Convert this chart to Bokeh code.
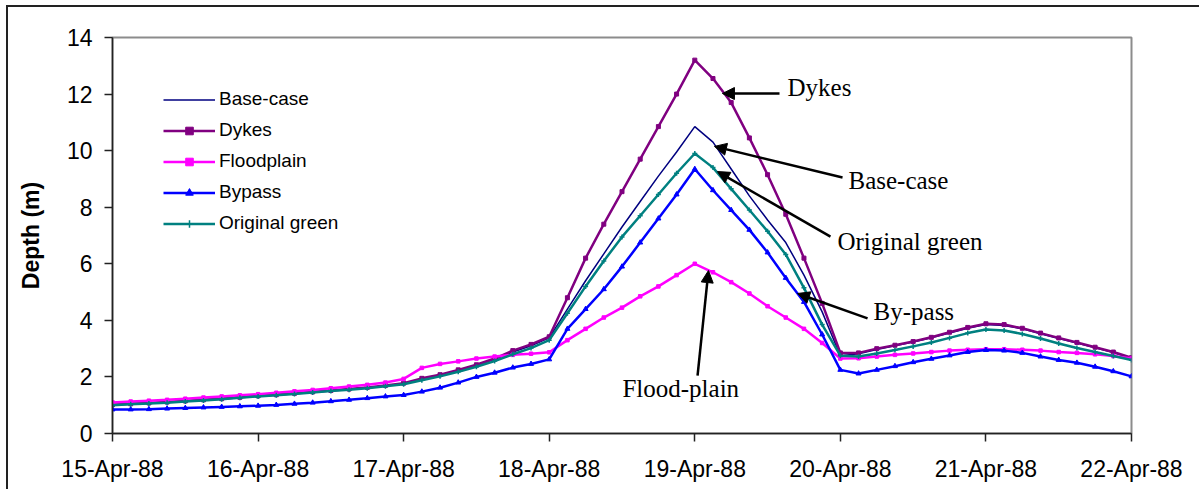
import pandas as pd
from bokeh.plotting import figure
from bokeh.models import (Range1d, DatetimeTickFormatter, DaysTicker,
                          Label, Arrow, NormalHead, ColumnDataSource)
from bokeh.embed import file_html
from bokeh.resources import INLINE

# ---------------- data (3-hourly readings, 15-Apr-88 00:00 .. 22-Apr-88 00:00) ----------------
start = "1988-04-15 00:00"
end = "1988-04-22 00:00"
times = pd.date_range(start, end, freq="3h")

base_case = [1.02, 1.05, 1.08, 1.11, 1.15, 1.19, 1.23, 1.28, 1.33,
             1.37, 1.42, 1.47, 1.52, 1.57, 1.62, 1.69, 1.77,
             1.94, 2.07, 2.23, 2.41, 2.62, 2.88, 3.10, 3.38,
             4.40, 5.40, 6.35, 7.30, 8.20, 9.10, 9.95, 10.85,
             10.30, 9.35, 8.40, 7.55, 6.75, 5.60, 4.30, 2.75,
             2.82, 2.97, 3.10, 3.23, 3.38, 3.55, 3.72, 3.85,
             3.82, 3.70, 3.53, 3.36, 3.20, 3.03, 2.86, 2.66]

dykes = [1.02, 1.05, 1.08, 1.11, 1.15, 1.19, 1.23, 1.28, 1.33,
         1.37, 1.42, 1.47, 1.52, 1.57, 1.63, 1.70, 1.78,
         1.95, 2.08, 2.25, 2.43, 2.65, 2.93, 3.15, 3.42,
         4.80, 6.20, 7.40, 8.55, 9.70, 10.85, 12.00, 13.20,
         12.55, 11.70, 10.45, 9.15, 7.75, 6.20, 4.60, 2.85,
         2.85, 3.00, 3.12, 3.25, 3.40, 3.58, 3.75, 3.88,
         3.85, 3.72, 3.55, 3.38, 3.22, 3.05, 2.88, 2.68]

floodplain = [1.10, 1.13, 1.16, 1.19, 1.23, 1.27, 1.31, 1.35, 1.39,
              1.44, 1.49, 1.54, 1.60, 1.66, 1.72, 1.80, 1.93,
              2.32, 2.46, 2.55, 2.65, 2.72, 2.78, 2.82, 2.87,
              3.30, 3.70, 4.10, 4.45, 4.85, 5.20, 5.60, 6.00,
              5.70, 5.35, 4.95, 4.50, 4.10, 3.70, 3.20, 2.65,
              2.66, 2.72, 2.78, 2.83, 2.88, 2.93, 2.96, 2.98,
              2.98, 2.96, 2.93, 2.88, 2.85, 2.80, 2.74, 2.65]

bypass = [0.85, 0.85, 0.86, 0.88, 0.90, 0.92, 0.94, 0.96, 0.98,
          1.01, 1.05, 1.09, 1.14, 1.19, 1.25, 1.31, 1.36,
          1.48, 1.62, 1.80, 2.00, 2.15, 2.33, 2.46, 2.62,
          3.70, 4.40, 5.10, 5.90, 6.75, 7.60, 8.45, 9.35,
          8.60, 7.90, 7.20, 6.40, 5.50, 4.65, 3.50, 2.25,
          2.12, 2.25, 2.38, 2.52, 2.64, 2.76, 2.88, 2.95,
          2.93, 2.85, 2.72, 2.60, 2.50, 2.36, 2.20, 2.02]

original_green = [1.00, 1.03, 1.06, 1.09, 1.13, 1.17, 1.21, 1.26, 1.31,
                  1.35, 1.40, 1.45, 1.50, 1.55, 1.60, 1.67, 1.74,
                  1.88, 2.02, 2.18, 2.36, 2.56, 2.80, 3.02, 3.30,
                  4.25, 5.20, 6.10, 6.95, 7.70, 8.45, 9.20, 9.90,
                  9.40, 8.65, 7.90, 7.15, 6.33, 5.15, 3.85, 2.75,
                  2.72, 2.83, 2.95, 3.08, 3.22, 3.38, 3.55, 3.68,
                  3.64, 3.52, 3.36, 3.18, 3.02, 2.88, 2.74, 2.60]

series_names = ["Base-case", "Dykes", "Floodplain", "Bypass", "Original green"]
y_ticks = [0, 2, 4, 6, 8, 10, 12, 14]

# annotations: (text, label day-offset, label depth, arrow tail day, tail depth, tip day, tip depth)
annotations = [
    ("Dykes",          4.637, 12.23, 4.582, 12.02, 4.190, 12.02),
    ("Base-case",      5.056, 8.945, 5.015, 9.05, 4.135, 10.15),
    ("Original green", 4.980, 6.789, 4.932, 6.96, 4.156, 9.26),
    ("By-pass",        5.228, 4.314, 5.187, 4.07, 4.706, 4.95),
    ("Flood-plain",    3.503, 1.593, 4.019, 2.05, 4.094, 5.76),
]

# ---------------- figure ----------------
start_ms = pd.Timestamp(start).value // 10**6
day_ms = 86400000


def dx(d):
    return start_ms + d * day_ms


source = ColumnDataSource(dict(t=times, base=base_case, dykes=dykes, flood=floodplain,
                               bypass=bypass, green=original_green))

p = figure(width=1193, height=484, x_axis_type="datetime",
           x_range=Range1d(pd.Timestamp(start), pd.Timestamp(end)),
           y_range=Range1d(0, 14),
           output_backend="svg", toolbar_location=None,
           min_border_left=104, min_border_right=70, min_border_top=30, min_border_bottom=58)
p.styles = {"margin-left": "8px", "margin-top": "7px",
            "box-shadow": "-2px -2px 0px 0px #222222"}

p.xgrid.visible = False
p.ygrid.visible = False
p.outline_line_color = "#8c8c8c"
p.outline_line_width = 2
p.background_fill_color = "white"
p.border_fill_color = "white"

# series
p.line("t", "base", source=source, line_color="#000080", line_width=1.5, legend_label=series_names[0])

p.line("t", "dykes", source=source, line_color="#800080", line_width=2.5, legend_label=series_names[1])
p.scatter("t", "dykes", source=source, marker="square", size=4, color="#800080", legend_label=series_names[1])

p.line("t", "flood", source=source, line_color="#FF00FF", line_width=2.5, legend_label=series_names[2])
p.scatter("t", "flood", source=source, marker="square", size=3.5, color="#FF00FF", legend_label=series_names[2])

p.line("t", "bypass", source=source, line_color="#0000FF", line_width=2.5, legend_label=series_names[3])
p.scatter("t", "bypass", source=source, marker="triangle", size=5, color="#0000FF", legend_label=series_names[3])

p.line("t", "green", source=source, line_color="#008080", line_width=2.5, legend_label=series_names[4])
p.scatter("t", "green", source=source, marker="cross", size=5, line_width=1.5, color="#008080",
          legend_label=series_names[4])

# axes
p.xaxis.ticker = DaysTicker(days=list(range(1, 32)))
fmt = "%d-%b-%y"
p.xaxis.formatter = DatetimeTickFormatter(days=fmt, months=fmt, hours=fmt, years=fmt)
p.yaxis.ticker = y_ticks

for ax in (p.xaxis[0], p.yaxis[0]):
    ax.major_label_text_font = "Liberation Sans"
    ax.major_label_text_font_size = "23px"
    ax.major_label_text_color = "black"
    ax.major_tick_out = 8
    ax.major_tick_in = 0
    ax.minor_tick_out = 0
    ax.minor_tick_in = 0
    ax.axis_line_color = "#222222"
    ax.axis_line_width = 1.5
    ax.major_tick_line_color = "#222222"
    ax.major_tick_line_width = 1.5

p.xaxis.major_label_standoff = 14
p.yaxis.major_label_standoff = 12
p.yaxis.axis_label = "Depth (m)"
p.yaxis.axis_label_text_font = "Liberation Sans"
p.yaxis.axis_label_text_font_style = "bold"
p.yaxis.axis_label_text_font_size = "23px"
p.yaxis.axis_label_text_color = "black"
p.yaxis.axis_label_standoff = 20

# legend
lg = p.legend[0]
lg.location = (51, 199)
lg.background_fill_alpha = 0
lg.border_line_alpha = 0
lg.padding = 0
lg.margin = 0
lg.spacing = 9
lg.glyph_width = 52
lg.glyph_height = 19
lg.label_height = 19
lg.label_standoff = 4
lg.label_text_font = "Liberation Sans"
lg.label_text_font_size = "19px"
lg.label_text_color = "black"

# annotations
for text, lx, ly, tx, ty, hx, hy in annotations:
    p.add_layout(Label(x=dx(lx), y=ly, text=text, text_font="Liberation Serif",
                       text_font_size="25px", text_color="black", text_baseline="alphabetic",
                       text_align="left"))
    p.add_layout(Arrow(end=NormalHead(size=12, fill_color="black", line_color="black"),
                       x_start=dx(tx), y_start=ty, x_end=dx(hx), y_end=hy,
                       line_color="black", line_width=2.5))

open("out.html", "w").write(file_html(p, INLINE))
